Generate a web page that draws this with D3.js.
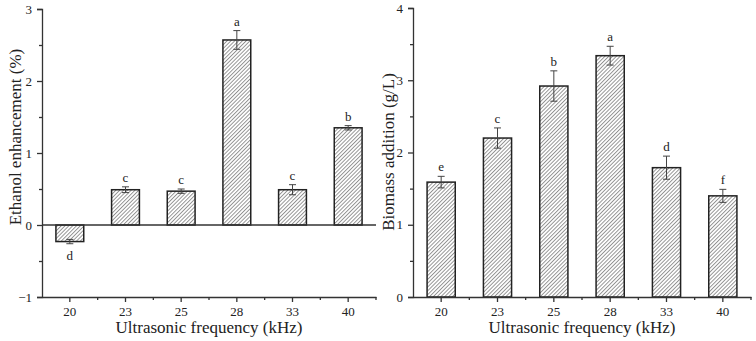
<!DOCTYPE html>
<html><head><meta charset="utf-8">
<script src="https://cdn.jsdelivr.net/npm/d3@7/dist/d3.min.js"></script>
<style>body{margin:0;background:#fff}svg{display:block}svg text{font-family:"Liberation Serif","DejaVu Serif",serif}</style>
</head><body>
<svg id="c" width="756" height="341"></svg>
<script>
const categories = ["20","23","25","28","33","40"];
const ethanolValues = [-0.23, 0.49, 0.47, 2.57, 0.49, 1.35];
const ethanolErrors = [0.03, 0.04, 0.03, 0.13, 0.07, 0.03];
const ethanolLetters = ["d","c","c","a","c","b"];
const biomassValues = [1.59, 2.20, 2.92, 3.34, 1.79, 1.40];
const biomassErrors = [0.08, 0.14, 0.21, 0.13, 0.16, 0.09];
const biomassLetters = ["e","c","b","a","d","f"];
const ethanolTicks = [-1, 0, 1, 2, 3];
const biomassTicks = [0, 1, 2, 3, 4];

const svg = d3.select("#c");
const font = "Liberation Serif, DejaVu Serif, serif";

const defs = svg.append("defs");
const pat = defs.append("pattern").attr("id","hatch").attr("patternUnits","userSpaceOnUse")
  .attr("width",2.7).attr("height",2.7).attr("patternTransform","rotate(45)");
pat.append("rect").attr("width",2.7).attr("height",2.7).attr("fill","#fff");
pat.append("line").attr("x1",0.5).attr("y1",0).attr("x2",0.5).attr("y2",2.7)
  .attr("stroke","#8a8a8a").attr("stroke-width",0.9);

function panel(opt){
  const g = svg.append("g");
  const x = d3.scaleBand().domain(categories).range([opt.x0, opt.x1]).padding(0.5).paddingOuter(0.25);
  const xb = d3.scaleBand().domain(categories).range([opt.x0, opt.x1]);
  const y = d3.scaleLinear().domain(opt.domain).range([opt.yb, opt.yt]);
  const col = "#333";

  g.selectAll("rect.bar").data(opt.values).enter().append("rect")
    .attr("x",(d,i)=>x(categories[i]))
    .attr("width",x.bandwidth())
    .attr("y",d=>y(Math.max(0,d)))
    .attr("height",d=>Math.abs(y(d)-y(0)))
    .attr("fill","url(#hatch)").attr("stroke","#222").attr("stroke-width",1.5);

  if (opt.domain[0] < 0){
    g.append("line").attr("x1",opt.x0).attr("x2",opt.x1).attr("y1",y(0)).attr("y2",y(0))
      .attr("stroke",col).attr("stroke-width",1.3);
  }

  opt.values.forEach((v,i)=>{
    const cx = xb(categories[i]) + xb.bandwidth()/2;
    const e = opt.errors[i];
    const top = y(v+e), bot = y(v-e);
    g.append("line").attr("x1",cx).attr("x2",cx).attr("y1",top).attr("y2",bot).attr("stroke","#444").attr("stroke-width",1);
    [top,bot].forEach(yy=>g.append("line").attr("x1",cx-3.5).attr("x2",cx+3.5).attr("y1",yy).attr("y2",yy).attr("stroke","#444").attr("stroke-width",1));
    const ly = v >= 0 ? top - 5 : bot + 16;
    g.append("text").attr("x",cx).attr("y",ly).attr("text-anchor","middle")
      .style("font-family",font).attr("font-size",13).attr("fill","#222").text(opt.letters[i]);
  });

  const yAx = g.append("g").attr("transform",`translate(${opt.x0},0)`)
    .call(d3.axisLeft(y).tickValues(opt.ticks).tickFormat(d3.format("d")).tickSize(5).tickPadding(5));
  const minor = d3.range(opt.domain[0]+0.5, opt.domain[1], 1);
  g.append("g").attr("transform",`translate(${opt.x0},0)`)
    .call(d3.axisLeft(y).tickValues(minor).tickFormat("").tickSize(3))
    .call(a=>a.selectAll("line").attr("stroke",col).attr("stroke-width",1.3))
    .select(".domain").remove();

  const xAx = g.append("g").attr("transform",`translate(0,${opt.yb})`)
    .call(d3.axisBottom(xb).tickSize(5).tickPadding(5).tickSizeOuter(0));
  const bounds = categories.slice(1).map(c=>xb(c)).concat([opt.x1]);
  bounds.forEach(bx=>g.append("line").attr("x1",bx).attr("x2",bx).attr("y1",opt.yb).attr("y2",opt.yb+3).attr("stroke",col).attr("stroke-width",1.3));

  [yAx,xAx].forEach(a=>{
    a.attr("font-family",null);
    a.selectAll("path,line").attr("stroke",col).attr("stroke-width",1.3);
    a.selectAll("text").style("font-family",font).attr("font-size",13).attr("fill","#222");
  });

  g.append("text").attr("x",(opt.x0+opt.x1)/2).attr("y",333).attr("text-anchor","middle")
    .style("font-family",font).attr("font-size",17).attr("fill","#222").text("Ultrasonic frequency (kHz)");
  g.append("text").attr("transform",`translate(${opt.tx},${opt.ty}) rotate(-90)`)
    .attr("text-anchor","middle").style("font-family",font).attr("font-size",17).attr("fill","#222").text(opt.title);
}

panel({x0:42, x1:376, yt:9, yb:297, domain:[-1,3], values:ethanolValues, errors:ethanolErrors,
  letters:ethanolLetters, ticks:ethanolTicks, title:"Ethanol enhancement (%)", tx:21, ty:137});
panel({x0:413, x1:751, yt:8, yb:297, domain:[0,4], values:biomassValues, errors:biomassErrors,
  letters:biomassLetters, ticks:biomassTicks, title:"Biomass addition (g/L)", tx:394, ty:152});
</script>
</body></html>
